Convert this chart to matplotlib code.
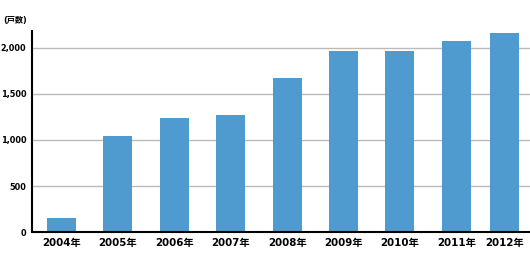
import numpy as np
import matplotlib.pyplot as plt

plt.rcParams['font.family'] = ['DejaVu Sans', 'Noto Sans CJK JP']

# households per year
years = ['2004年', '2005年', '2006年', '2007年', '2008年',
         '2009年', '2010年', '2011年', '2012年']
households = [155, 1042, 1237, 1270, 1670, 1962, 1962, 2070, 2157]
yticks = [0, 500, 1000, 1500, 2000]

# the last bar sits a bit closer in the original
xpos = np.arange(len(years), dtype=float)
xpos[-1] -= 0.15

fig = plt.figure(figsize=(5.3, 2.64), dpi=100)
ax = fig.add_axes([32 / 530, (264 - 232.3) / 264, 498 / 530, 201.6 / 264])

ax.bar(xpos, households, width=0.514, color='#4f9bd0', zorder=2)

ax.set_xlim(-0.523, 8.307)
ax.set_ylim(0, 2182)
ax.set_yticks(yticks)
ax.set_yticklabels(['{:,}'.format(v) for v in yticks],
                   fontsize=5.9, fontweight='bold')
ax.set_xticks(xpos)
ax.set_xticklabels(years, fontsize=7.4, fontweight='bold')
ax.tick_params(axis='both', length=0)
ax.tick_params(axis='y', pad=4)
ax.tick_params(axis='x', pad=4)

ax.grid(axis='y', color='#bbbbbb', linewidth=1, zorder=0)
for s in ['top', 'right']:
    ax.spines[s].set_visible(False)
for s in ['left', 'bottom']:
    ax.spines[s].set_linewidth(1.5)
    ax.spines[s].set_color('black')

fig.text(3 / 530, 1 - 20 / 264, '(戸数)', fontsize=5.9, fontweight='bold',
         va='center', ha='left')

fig.savefig('out.png', dpi=100)
